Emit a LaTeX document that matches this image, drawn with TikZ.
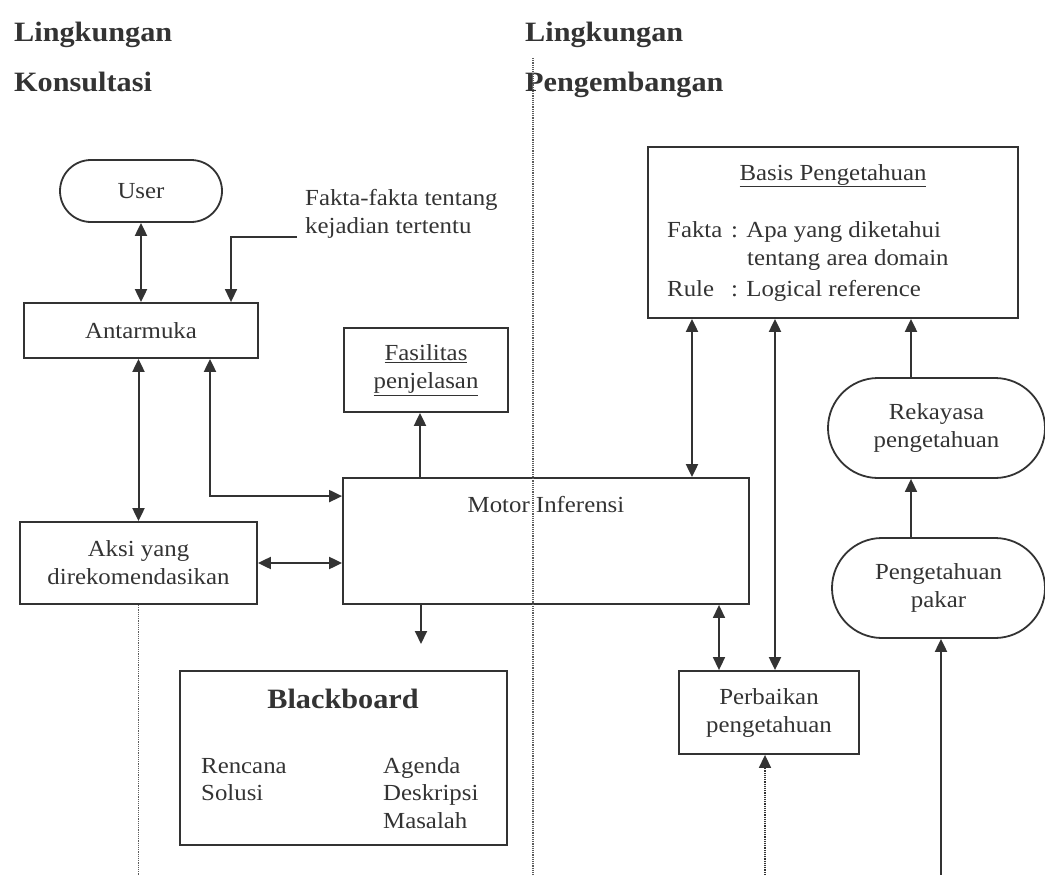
\documentclass[tikz,border=0pt]{standalone}
\usepackage{fontspec}
\setmainfont{Liberation Serif}[FakeStretch=1.08]
\usetikzlibrary{arrows.meta,calc}
\definecolor{ink}{gray}{0.2}
\begin{document}
\begin{tikzpicture}[x=1pt,y=-1pt,
  font=\fontsize{23}{28}\selectfont,
  box/.style={draw=ink, line width=1.8pt, text=ink, align=center, inner sep=2pt},
  txt/.style={inner sep=0pt, text=ink},
  title/.style={inner sep=0pt, text=ink, font=\fontsize{28}{32}\selectfont\bfseries, anchor=base west},
  arr/.style={draw=ink, line width=2pt, -{Triangle[length=13pt,width=12pt]}},
  darr/.style={draw=ink, line width=2pt, {Triangle[length=13pt,width=12pt]}-{Triangle[length=13pt,width=12pt]}},
  dotline/.style={draw=ink!80, line width=1.4pt, dash pattern=on 1.2pt off 1pt}]
\useasboundingbox (0,0) rectangle (1045,875);

% titles
\node[title] (t1) at (14,42) {Lingkungan};
\node[title] (t2) at (14,92) {Konsultasi};
\node[title] (t3) at (525,42) {Lingkungan};
\node[title] (t4) at (525,92) {Pengembangan};

% boxes
\node[box, minimum width=162pt, minimum height=62pt, rounded corners=31pt] (user) at (141,191) {User};
\node[box, minimum width=234pt, minimum height=55pt] (ant) at (141,330.5) {Antarmuka};
\node[box, minimum width=237pt, minimum height=82pt] (aksi) at (138.5,563) {Aksi yang\\direkomendasikan};
\node[box, minimum width=164pt, minimum height=84pt] (fasil) at (426,370) {\underline{Fasilitas}\\\underline{penjelasan}};
\node[box, minimum width=406pt, minimum height=126pt] (motor) at (546,541) {};
\node[txt, anchor=base] (motortxt) at (546,512) {Motor Inferensi};
\node[box, minimum width=327pt, minimum height=174pt] (bb) at (343.5,758) {};
\node[txt, anchor=base, font=\fontsize{28}{32}\selectfont\bfseries] (bbt) at (343,708) {Blackboard};
\node[txt, anchor=base west] (bb1) at (201,773) {Rencana};
\node[txt, anchor=base west] (bb2) at (201,800) {Solusi};
\node[txt, anchor=base west] (bb3) at (383,773) {Agenda};
\node[txt, anchor=base west] (bb4) at (383,800) {Deskripsi};
\node[txt, anchor=base west] (bb5) at (383,828) {Masalah};

\node[box, minimum width=370pt, minimum height=171pt] (basis) at (833,232.5) {};
\node[txt, anchor=base] (bst) at (833,180) {\underline{Basis Pengetahuan}};
\node[txt, anchor=base west] (bs1) at (667,237) {Fakta};
\node[txt, anchor=base west] (bs2) at (731,237) {: Apa yang diketahui};
\node[txt, anchor=base west] (bs3) at (747,265) {tentang area domain};
\node[txt, anchor=base west] (bs4) at (667,296) {Rule};
\node[txt, anchor=base west] (bs5) at (731,296) {: Logical reference};

\node[box, minimum width=217pt, minimum height=100pt, rounded corners=50pt] (rek) at (936.5,428) {Rekayasa\\pengetahuan};
\node[box, minimum width=213pt, minimum height=100pt, rounded corners=50pt] (pakar) at (938.5,588) {Pengetahuan\\pakar};
\node[box, minimum width=180pt, minimum height=83pt] (perb) at (769,712.5) {Perbaikan\\pengetahuan};

\node[txt, anchor=base west] (fk1) at (305,205) {Fakta-fakta tentang};
\node[txt, anchor=base west] (fk2) at (305,233) {kejadian tertentu};

% helper coordinates
\coordinate (cF1) at (297,237);
\coordinate (cF2) at (231,0);
\coordinate (cAM) at (210,0);
\coordinate (cMF) at (420,0);
\coordinate (cBB) at (421,644);
\coordinate (cBM) at (692,0);
\coordinate (cBP) at (775,0);
\coordinate (cRB) at (911,0);
\coordinate (cMP) at (719,0);
\coordinate (cPB) at (765,875);
\coordinate (cPK) at (941,875);
\coordinate (cD1a) at (533,58);
\coordinate (cD1b) at (533,875);
\coordinate (cD2) at (138,875);

% dotted dividers
\draw[dotline] (cD1a) -- (cD1b);
\draw[dotline] (aksi.south) -- (aksi.south |- cD2);

% connectors
\draw[arr, line width=1.6pt] (cF1) -| (ant.north -| cF2);
\draw[darr] (user.south) -- (ant.north);
\draw[darr] (ant.south -| aksi.north) -- (aksi.north);
\draw[darr] (ant.south -| cAM) |- ($(motor.north west)+(0,19)$);
\draw[darr] (aksi.east) -- (aksi.east -| motor.west);
\draw[arr] (motor.north -| cMF) -- (fasil.south -| cMF);
\draw[arr] (motor.south -| cBB) -- (cBB);
\draw[darr] (basis.south -| cBM) -- (motor.north -| cBM);
\draw[darr] (basis.south -| cBP) -- (perb.north -| cBP);
\draw[arr] (rek.north -| cRB) -- (basis.south -| cRB);
\draw[arr, line width=1.6pt] (pakar.north -| cRB) -- (rek.south -| cRB);
\draw[arr] (cPK) -- (pakar.south -| cPK);
\draw[darr, line width=1.6pt] (motor.south -| cMP) -- (perb.north -| cMP);
\draw[arr, dash pattern=on 1.2pt off 1pt, line width=1.6pt] (cPB) -- (perb.south -| cPB);
\end{tikzpicture}
\end{document}
